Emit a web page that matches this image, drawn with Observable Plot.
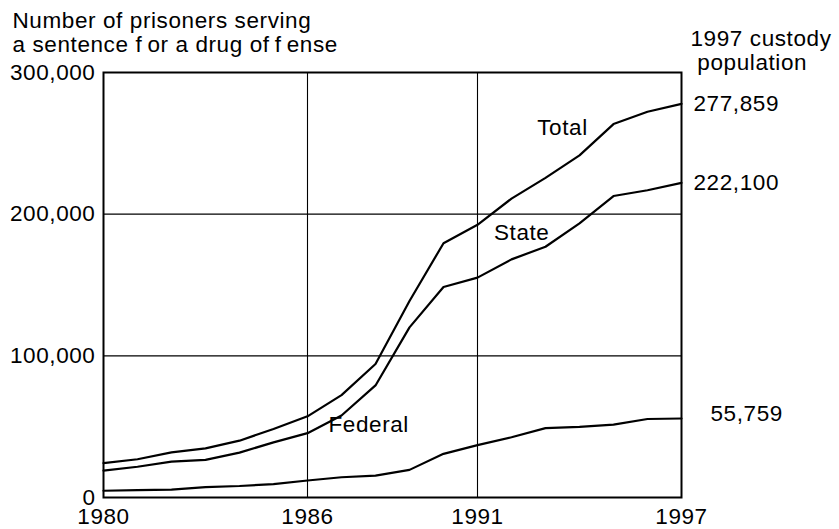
<!DOCTYPE html>
<html>
<head>
<meta charset="utf-8">
<script src="https://cdn.jsdelivr.net/npm/d3@7"></script>
<script src="https://cdn.jsdelivr.net/npm/@observablehq/plot@0.6"></script>
<style>
  html, body { margin: 0; padding: 0; background: #fff; }
</style>
</head>
<body>
<div id="chart"></div>
<script>
const years   = [1980,1981,1982,1983,1984,1985,1986,1987,1988,1989,1990,1991,1992,1993,1994,1995,1996,1997];
const total   = [24200,27000,31900,34700,40100,48400,57300,72300,94200,138700,179500,192500,211000,225600,241500,263600,272300,277859];
const state   = [19000,21700,25300,26600,31700,38900,45400,57900,79100,120100,148600,155200,168100,177000,193500,212800,216900,222100];
const federal = [4750,5200,5600,7300,8100,9500,12000,14300,15500,19500,30800,37000,42500,49000,49800,51400,55400,55759];

const xTicks = [1980, 1986, 1991, 1997];
const yTicks = [0, 100000, 200000, 300000];
const xGrid = [1986, 1991];
const yGrid = [100000, 200000];

const seriesNames = ["Total", "State", "Federal"];
const labelYears  = [1993.5, 1992.3, 1987.8];
const labelValues = [261000, 187000, 51000];

const titleText = "Number of prisoners serving\na sentence f\u2009or a drug of\u2009f\u2009ense";
const rightTitle = "1997 custody\n population";

const seriesData = {Total: total, State: state, Federal: federal};
const rows = seriesNames.flatMap(s => years.map((yr, i) => ({series: s, year: yr, value: seriesData[s][i]})));
const labels = seriesNames.map((s, i) => ({text: s, year: labelYears[i], value: labelValues[i]}));
const ends = seriesNames.map(s => ({series: s, year: years[years.length - 1], value: seriesData[s][years.length - 1]}));
const fmt = d3.format(",");
const FS = 22.5;
const FONT = "'Liberation Sans', Arial, Helvetica, sans-serif";

const chart = Plot.plot({
  width: 839,
  height: 529,
  marginLeft: 103,
  marginRight: 158,
  marginTop: 72,
  marginBottom: 32,
  style: {fontFamily: FONT, fontSize: FS + "px", letterSpacing: "0.6px", color: "black", background: "white", overflow: "visible"},
  x: {domain: [1980, 1997], label: null},
  y: {domain: [0, 300000], label: null},
  marks: [
    Plot.ruleX(xGrid, {stroke: "black", strokeWidth: 1.1}),
    Plot.ruleY(yGrid, {stroke: "black", strokeWidth: 1.1}),
    Plot.lineY(rows, {x: "year", y: "value", z: "series", stroke: "black", strokeWidth: 2.2, strokeLinejoin: "miter"}),
    Plot.frame({stroke: "black", strokeWidth: 2}),
    Plot.axisX({ticks: xTicks, tickFormat: d => String(d), tickSize: 0, tickPadding: 11, fontSize: FS, label: null}),
    Plot.axisY({ticks: yTicks, tickFormat: d => fmt(d), tickSize: 0, tickPadding: 8, fontSize: FS, label: null}),
    Plot.text(labels, {x: "year", y: "value", text: "text", fontSize: FS, fill: "black"}),
    Plot.text(ends.filter(d => d.series !== "Federal"), {x: "year", y: "value", text: d => fmt(d.value), dx: 12, textAnchor: "start", fontSize: FS, fill: "black"}),
    Plot.text(ends.filter(d => d.series === "Federal"), {x: "year", y: "value", text: d => fmt(d.value), dx: 29, dy: -5, textAnchor: "start", fontSize: FS, fill: "black"}),
    Plot.text([titleText], {frameAnchor: "top-left", dx: -91, dy: -40, textAnchor: "start", lineAnchor: "middle", lineHeight: 1.06, fontSize: FS, fill: "black"}),
    Plot.text([rightTitle], {frameAnchor: "top-right", dx: 9, dy: -22, textAnchor: "start", lineAnchor: "middle", lineHeight: 1.04, fontSize: FS, fill: "black"})
  ]
});
document.getElementById("chart").appendChild(chart);
</script>
</body>
</html>
